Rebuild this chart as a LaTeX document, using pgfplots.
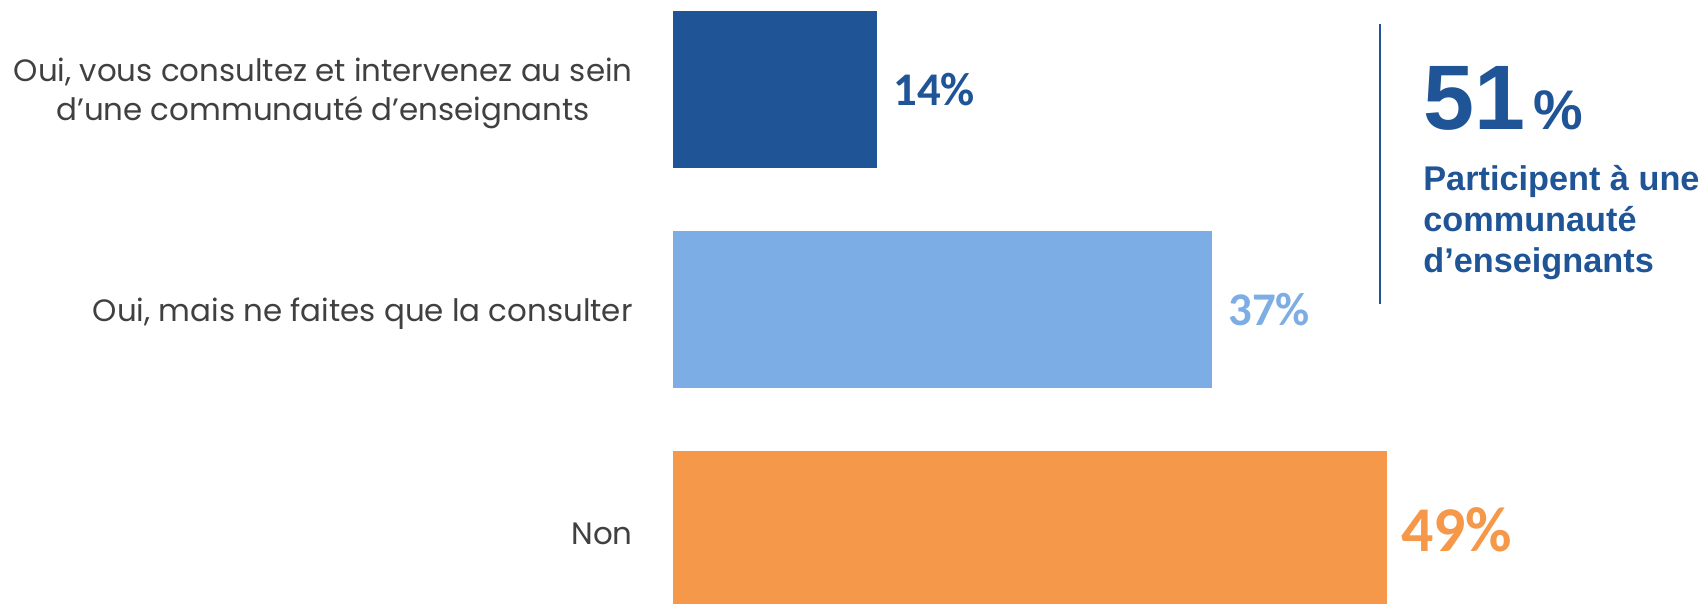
\documentclass[border=0pt]{standalone}
\usepackage{pgfplots}
\pgfplotsset{compat=1.18}
\usepackage{fontspec}
\setmainfont{Poppins}
\newfontfamily\carlito{Carlito}
\newfontfamily\arial{Liberation Sans}

\definecolor{dblue}{HTML}{1F5496}
\definecolor{lblue}{HTML}{7DADE5}
\definecolor{orng}{HTML}{F59849}
\definecolor{lbl}{HTML}{404040}

\begin{document}
\begin{tikzpicture}
  % picture is 1703 x 604 px, 1 px = 0.5bp
  \useasboundingbox (0,0) rectangle (851.5bp,-302bp);
  \begin{axis}[
      at={(336.5bp,-302bp)}, anchor=south west,
      scale only axis,
      width=364.25bp, height=302bp,
      xmin=0, xmax=50,
      ymin=-0.407, ymax=2.339,
      y dir=reverse,
      xbar, bar width=78.5bp,
      every axis plot/.append style={bar shift=0pt, draw=none},
      axis line style={draw=none},
      tick style={draw=none},
      major tick length=0pt,
      xtick=\empty,
      ytick={0,1,2},
      yticklabels={
        {Oui, vous consultez et intervenez au sein\\d’une communauté d’enseignants\hspace{1.2em}},
        {Oui, mais ne faites que la consulter},
        {Non}
      },
      yticklabel style={
        align=center, anchor=east, inner xsep=0pt, xshift=-20bp, yshift=-2bp,
        text=lbl, font=\fontsize{15.5}{19.5}\selectfont
      },
      /pgf/number format/assume math mode=true,
      point meta=x,
      nodes near coords={\pgfmathprintnumber{\pgfplotspointmeta}\%},
    ]
    \addplot[fill=dblue, every node near coord/.style={
        anchor=west, inner xsep=8bp, text=dblue,
        font=\carlito\bfseries\fontsize{23.5}{23.5}\selectfont}]
      coordinates {(14,0)};
    \addplot[fill=lblue, every node near coord/.style={
        anchor=west, inner xsep=8bp, text=lblue,
        font=\carlito\bfseries\fontsize{23.5}{23.5}\selectfont}]
      coordinates {(37,1)};
    \addplot[fill=orng, every node near coord/.style={
        anchor=west, inner xsep=7bp, text=orng,
        font=\carlito\bfseries\fontsize{32}{32}\selectfont}]
      coordinates {(49,2)};
  \end{axis}
  \begin{scope}[x=0.5bp, y=-0.5bp]
    \draw[dblue, line width=1.2bp] (1380,24) -- (1380,304);
    \node[anchor=base west, inner sep=0pt, text=dblue,
      font=\arial\bfseries\fontsize{46}{46}\selectfont] at (1423,130)
      {51\hspace{4bp}{\fontsize{28}{28}\selectfont\%}};
    \node[anchor=base west, inner sep=0pt, text=dblue,
      font=\arial\bfseries\fontsize{17.2}{20.5}\selectfont] at (1423,191) {Participent à une};
    \node[anchor=base west, inner sep=0pt, text=dblue,
      font=\arial\bfseries\fontsize{17.2}{20.5}\selectfont] at (1423,232) {communauté};
    \node[anchor=base west, inner sep=0pt, text=dblue,
      font=\arial\bfseries\fontsize{17.2}{20.5}\selectfont] at (1423,273) {d’enseignants};
  \end{scope}
\end{tikzpicture}
\end{document}
